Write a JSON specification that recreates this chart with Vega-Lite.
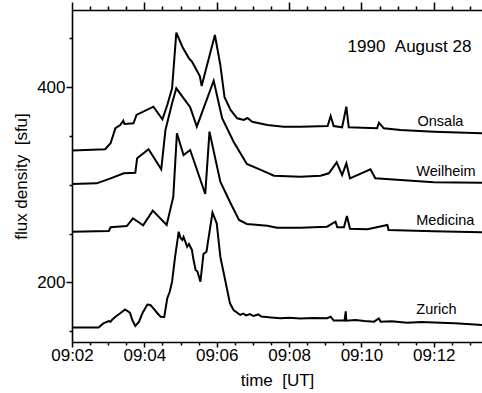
{
  "$schema": "https://vega.github.io/schema/vega-lite/v6.json",
  "width": 410,
  "height": 332,
  "autosize": "none",
  "padding": {"left": 72, "top": 10, "right": 0, "bottom": 51},
  "background": "white",
  "view": {"stroke": null},
  "config": {
    "font": "Liberation Sans",
    "axis": {
      "labelFont": "Liberation Sans",
      "labelFontSize": 17,
      "labelColor": "black",
      "titleFont": "Liberation Sans",
      "titleFontSize": 17,
      "titleFontWeight": "normal",
      "titleColor": "black",
      "domainColor": "black",
      "domainWidth": 1.6,
      "tickColor": "black",
      "tickOpacity": 1,
      "tickWidth": 1.5,
      "grid": false
    }
  },
  "datasets": {
    "series": [
      {"station": "Onsala", "time": "1990-08-28T09:02:00", "flux": 335},
      {"station": "Onsala", "time": "1990-08-28T09:02:55", "flux": 336.4},
      {"station": "Onsala", "time": "1990-08-28T09:03:04", "flux": 342.5},
      {"station": "Onsala", "time": "1990-08-28T09:03:12", "flux": 357.9},
      {"station": "Onsala", "time": "1990-08-28T09:03:20", "flux": 361.2},
      {"station": "Onsala", "time": "1990-08-28T09:03:25", "flux": 365.6},
      {"station": "Onsala", "time": "1990-08-28T09:03:27", "flux": 362.3},
      {"station": "Onsala", "time": "1990-08-28T09:03:42", "flux": 363},
      {"station": "Onsala", "time": "1990-08-28T09:03:47", "flux": 371.5},
      {"station": "Onsala", "time": "1990-08-28T09:04:15", "flux": 380},
      {"station": "Onsala", "time": "1990-08-28T09:04:30", "flux": 367.1},
      {"station": "Onsala", "time": "1990-08-28T09:04:38", "flux": 381.7},
      {"station": "Onsala", "time": "1990-08-28T09:04:46", "flux": 398.8},
      {"station": "Onsala", "time": "1990-08-28T09:04:53", "flux": 455.8},
      {"station": "Onsala", "time": "1990-08-28T09:05:03", "flux": 441.4},
      {"station": "Onsala", "time": "1990-08-28T09:05:14", "flux": 429.5},
      {"station": "Onsala", "time": "1990-08-28T09:05:19", "flux": 426.1},
      {"station": "Onsala", "time": "1990-08-28T09:05:32", "flux": 411.4},
      {"station": "Onsala", "time": "1990-08-28T09:05:35", "flux": 401.2},
      {"station": "Onsala", "time": "1990-08-28T09:05:57", "flux": 453.4},
      {"station": "Onsala", "time": "1990-08-28T09:06:06", "flux": 422.7},
      {"station": "Onsala", "time": "1990-08-28T09:06:13", "flux": 389.6},
      {"station": "Onsala", "time": "1990-08-28T09:06:23", "flux": 376.6},
      {"station": "Onsala", "time": "1990-08-28T09:06:34", "flux": 368.1},
      {"station": "Onsala", "time": "1990-08-28T09:06:45", "flux": 366.4},
      {"station": "Onsala", "time": "1990-08-28T09:06:51", "flux": 368.4},
      {"station": "Onsala", "time": "1990-08-28T09:06:59", "flux": 364.6},
      {"station": "Onsala", "time": "1990-08-28T09:07:24", "flux": 361.2},
      {"station": "Onsala", "time": "1990-08-28T09:07:51", "flux": 359.5},
      {"station": "Onsala", "time": "1990-08-28T09:08:19", "flux": 359.5},
      {"station": "Onsala", "time": "1990-08-28T09:09:04", "flux": 360.2},
      {"station": "Onsala", "time": "1990-08-28T09:09:09", "flux": 370.5},
      {"station": "Onsala", "time": "1990-08-28T09:09:14", "flux": 360.2},
      {"station": "Onsala", "time": "1990-08-28T09:09:28", "flux": 358.9},
      {"station": "Onsala", "time": "1990-08-28T09:09:35", "flux": 380},
      {"station": "Onsala", "time": "1990-08-28T09:09:39", "flux": 358.9},
      {"station": "Onsala", "time": "1990-08-28T09:10:26", "flux": 357.9},
      {"station": "Onsala", "time": "1990-08-28T09:10:29", "flux": 363.6},
      {"station": "Onsala", "time": "1990-08-28T09:10:37", "flux": 357.9},
      {"station": "Onsala", "time": "1990-08-28T09:11:05", "flux": 356.1},
      {"station": "Onsala", "time": "1990-08-28T09:12:00", "flux": 354.4},
      {"station": "Onsala", "time": "1990-08-28T09:13:20", "flux": 352.7},

      {"station": "Weilheim", "time": "1990-08-28T09:02:00", "flux": 300.8},
      {"station": "Weilheim", "time": "1990-08-28T09:02:41", "flux": 301.5},
      {"station": "Weilheim", "time": "1990-08-28T09:03:04", "flux": 306.6},
      {"station": "Weilheim", "time": "1990-08-28T09:03:26", "flux": 311.8},
      {"station": "Weilheim", "time": "1990-08-28T09:03:45", "flux": 312.4},
      {"station": "Weilheim", "time": "1990-08-28T09:03:48", "flux": 327.1},
      {"station": "Weilheim", "time": "1990-08-28T09:04:07", "flux": 336.4},
      {"station": "Weilheim", "time": "1990-08-28T09:04:28", "flux": 315.9},
      {"station": "Weilheim", "time": "1990-08-28T09:04:35", "flux": 356.1},
      {"station": "Weilheim", "time": "1990-08-28T09:04:46", "flux": 383.5},
      {"station": "Weilheim", "time": "1990-08-28T09:04:53", "flux": 398.8},
      {"station": "Weilheim", "time": "1990-08-28T09:05:16", "flux": 379.4},
      {"station": "Weilheim", "time": "1990-08-28T09:05:27", "flux": 359.5},
      {"station": "Weilheim", "time": "1990-08-28T09:05:55", "flux": 406.6},
      {"station": "Weilheim", "time": "1990-08-28T09:06:09", "flux": 368.1},
      {"station": "Weilheim", "time": "1990-08-28T09:06:28", "flux": 344.1},
      {"station": "Weilheim", "time": "1990-08-28T09:06:50", "flux": 321.3},
      {"station": "Weilheim", "time": "1990-08-28T09:07:13", "flux": 315.2},
      {"station": "Weilheim", "time": "1990-08-28T09:07:35", "flux": 309.3},
      {"station": "Weilheim", "time": "1990-08-28T09:08:19", "flux": 308.3},
      {"station": "Weilheim", "time": "1990-08-28T09:08:52", "flux": 309.3},
      {"station": "Weilheim", "time": "1990-08-28T09:09:06", "flux": 311.8},
      {"station": "Weilheim", "time": "1990-08-28T09:09:19", "flux": 323},
      {"station": "Weilheim", "time": "1990-08-28T09:09:28", "flux": 310},
      {"station": "Weilheim", "time": "1990-08-28T09:09:35", "flux": 322},
      {"station": "Weilheim", "time": "1990-08-28T09:09:41", "flux": 306.6},
      {"station": "Weilheim", "time": "1990-08-28T09:10:15", "flux": 315.9},
      {"station": "Weilheim", "time": "1990-08-28T09:10:23", "flux": 306.6},
      {"station": "Weilheim", "time": "1990-08-28T09:11:05", "flux": 304.9},
      {"station": "Weilheim", "time": "1990-08-28T09:12:00", "flux": 302.6},
      {"station": "Weilheim", "time": "1990-08-28T09:13:20", "flux": 302.1},

      {"station": "Medicina", "time": "1990-08-28T09:02:00", "flux": 252},
      {"station": "Medicina", "time": "1990-08-28T09:03:01", "flux": 252.7},
      {"station": "Medicina", "time": "1990-08-28T09:03:04", "flux": 256.5},
      {"station": "Medicina", "time": "1990-08-28T09:03:31", "flux": 257.8},
      {"station": "Medicina", "time": "1990-08-28T09:03:41", "flux": 265.7},
      {"station": "Medicina", "time": "1990-08-28T09:03:58", "flux": 258.5},
      {"station": "Medicina", "time": "1990-08-28T09:04:14", "flux": 273.5},
      {"station": "Medicina", "time": "1990-08-28T09:04:37", "flux": 258.8},
      {"station": "Medicina", "time": "1990-08-28T09:04:48", "flux": 287.8},
      {"station": "Medicina", "time": "1990-08-28T09:04:54", "flux": 352.7},
      {"station": "Medicina", "time": "1990-08-28T09:05:05", "flux": 330.5},
      {"station": "Medicina", "time": "1990-08-28T09:05:16", "flux": 335.6},
      {"station": "Medicina", "time": "1990-08-28T09:05:41", "flux": 290.6},
      {"station": "Medicina", "time": "1990-08-28T09:05:48", "flux": 354.4},
      {"station": "Medicina", "time": "1990-08-28T09:06:06", "flux": 303.2},
      {"station": "Medicina", "time": "1990-08-28T09:06:23", "flux": 281.1},
      {"station": "Medicina", "time": "1990-08-28T09:06:37", "flux": 264},
      {"station": "Medicina", "time": "1990-08-28T09:06:50", "flux": 259.9},
      {"station": "Medicina", "time": "1990-08-28T09:07:24", "flux": 258.1},
      {"station": "Medicina", "time": "1990-08-28T09:07:40", "flux": 256.1},
      {"station": "Medicina", "time": "1990-08-28T09:08:19", "flux": 256.1},
      {"station": "Medicina", "time": "1990-08-28T09:09:03", "flux": 257.1},
      {"station": "Medicina", "time": "1990-08-28T09:09:17", "flux": 262.2},
      {"station": "Medicina", "time": "1990-08-28T09:09:20", "flux": 256.5},
      {"station": "Medicina", "time": "1990-08-28T09:09:31", "flux": 256.5},
      {"station": "Medicina", "time": "1990-08-28T09:09:36", "flux": 268},
      {"station": "Medicina", "time": "1990-08-28T09:09:41", "flux": 255},
      {"station": "Medicina", "time": "1990-08-28T09:10:10", "flux": 254.4},
      {"station": "Medicina", "time": "1990-08-28T09:10:43", "flux": 258.8},
      {"station": "Medicina", "time": "1990-08-28T09:10:45", "flux": 253.7},
      {"station": "Medicina", "time": "1990-08-28T09:12:00", "flux": 252.4},
      {"station": "Medicina", "time": "1990-08-28T09:13:20", "flux": 251.4},

      {"station": "Zurich", "time": "1990-08-28T09:02:00", "flux": 153.9},
      {"station": "Zurich", "time": "1990-08-28T09:02:44", "flux": 153.9},
      {"station": "Zurich", "time": "1990-08-28T09:02:52", "flux": 158},
      {"station": "Zurich", "time": "1990-08-28T09:03:01", "flux": 160.5},
      {"station": "Zurich", "time": "1990-08-28T09:03:04", "flux": 159.8},
      {"station": "Zurich", "time": "1990-08-28T09:03:07", "flux": 162.1},
      {"station": "Zurich", "time": "1990-08-28T09:03:12", "flux": 164.9},
      {"station": "Zurich", "time": "1990-08-28T09:03:20", "flux": 168.4},
      {"station": "Zurich", "time": "1990-08-28T09:03:28", "flux": 172.3},
      {"station": "Zurich", "time": "1990-08-28T09:03:36", "flux": 169},
      {"station": "Zurich", "time": "1990-08-28T09:03:40", "flux": 161.5},
      {"station": "Zurich", "time": "1990-08-28T09:03:45", "flux": 155.4},
      {"station": "Zurich", "time": "1990-08-28T09:03:51", "flux": 159.5},
      {"station": "Zurich", "time": "1990-08-28T09:03:57", "flux": 168.7},
      {"station": "Zurich", "time": "1990-08-28T09:04:05", "flux": 177.4},
      {"station": "Zurich", "time": "1990-08-28T09:04:10", "flux": 176.9},
      {"station": "Zurich", "time": "1990-08-28T09:04:15", "flux": 173.5},
      {"station": "Zurich", "time": "1990-08-28T09:04:22", "flux": 168.2},
      {"station": "Zurich", "time": "1990-08-28T09:04:27", "flux": 164.9},
      {"station": "Zurich", "time": "1990-08-28T09:04:33", "flux": 164.6},
      {"station": "Zurich", "time": "1990-08-28T09:04:38", "flux": 183.8},
      {"station": "Zurich", "time": "1990-08-28T09:04:42", "flux": 190.2},
      {"station": "Zurich", "time": "1990-08-28T09:04:46", "flux": 200.8},
      {"station": "Zurich", "time": "1990-08-28T09:04:51", "flux": 226.4},
      {"station": "Zurich", "time": "1990-08-28T09:04:57", "flux": 252},
      {"station": "Zurich", "time": "1990-08-28T09:05:00", "flux": 245.5},
      {"station": "Zurich", "time": "1990-08-28T09:05:03", "flux": 243.5},
      {"station": "Zurich", "time": "1990-08-28T09:05:05", "flux": 246.5},
      {"station": "Zurich", "time": "1990-08-28T09:05:08", "flux": 241.7},
      {"station": "Zurich", "time": "1990-08-28T09:05:11", "flux": 236.6},
      {"station": "Zurich", "time": "1990-08-28T09:05:14", "flux": 239.4},
      {"station": "Zurich", "time": "1990-08-28T09:05:19", "flux": 233.2},
      {"station": "Zurich", "time": "1990-08-28T09:05:21", "flux": 225},
      {"station": "Zurich", "time": "1990-08-28T09:05:25", "flux": 212.7},
      {"station": "Zurich", "time": "1990-08-28T09:05:28", "flux": 211.2},
      {"station": "Zurich", "time": "1990-08-28T09:05:33", "flux": 200.8},
      {"station": "Zurich", "time": "1990-08-28T09:05:38", "flux": 229.1},
      {"station": "Zurich", "time": "1990-08-28T09:05:43", "flux": 231.5},
      {"station": "Zurich", "time": "1990-08-28T09:05:53", "flux": 271.6},
      {"station": "Zurich", "time": "1990-08-28T09:06:00", "flux": 260.6},
      {"station": "Zurich", "time": "1990-08-28T09:06:06", "flux": 226.4},
      {"station": "Zurich", "time": "1990-08-28T09:06:14", "flux": 202.5},
      {"station": "Zurich", "time": "1990-08-28T09:06:22", "flux": 178.6},
      {"station": "Zurich", "time": "1990-08-28T09:06:28", "flux": 171.8},
      {"station": "Zurich", "time": "1990-08-28T09:06:39", "flux": 166.7},
      {"station": "Zurich", "time": "1990-08-28T09:06:44", "flux": 168},
      {"station": "Zurich", "time": "1990-08-28T09:06:49", "flux": 166.2},
      {"station": "Zurich", "time": "1990-08-28T09:06:55", "flux": 167.5},
      {"station": "Zurich", "time": "1990-08-28T09:07:01", "flux": 165.6},
      {"station": "Zurich", "time": "1990-08-28T09:07:09", "flux": 167.2},
      {"station": "Zurich", "time": "1990-08-28T09:07:14", "flux": 165},
      {"station": "Zurich", "time": "1990-08-28T09:07:18", "flux": 164.9},
      {"station": "Zurich", "time": "1990-08-28T09:07:30", "flux": 164.2},
      {"station": "Zurich", "time": "1990-08-28T09:07:46", "flux": 163.3},
      {"station": "Zurich", "time": "1990-08-28T09:08:00", "flux": 163.8},
      {"station": "Zurich", "time": "1990-08-28T09:08:19", "flux": 163.1},
      {"station": "Zurich", "time": "1990-08-28T09:08:40", "flux": 163.5},
      {"station": "Zurich", "time": "1990-08-28T09:09:03", "flux": 163.3},
      {"station": "Zurich", "time": "1990-08-28T09:09:09", "flux": 164.9},
      {"station": "Zurich", "time": "1990-08-28T09:09:14", "flux": 161},
      {"station": "Zurich", "time": "1990-08-28T09:09:32", "flux": 161},
      {"station": "Zurich", "time": "1990-08-28T09:09:34", "flux": 170.3},
      {"station": "Zurich", "time": "1990-08-28T09:09:35", "flux": 160.8},
      {"station": "Zurich", "time": "1990-08-28T09:09:50", "flux": 161.5},
      {"station": "Zurich", "time": "1990-08-28T09:10:05", "flux": 160.5},
      {"station": "Zurich", "time": "1990-08-28T09:10:21", "flux": 159.8},
      {"station": "Zurich", "time": "1990-08-28T09:10:29", "flux": 163.1},
      {"station": "Zurich", "time": "1990-08-28T09:10:32", "flux": 159.8},
      {"station": "Zurich", "time": "1990-08-28T09:10:50", "flux": 160.3},
      {"station": "Zurich", "time": "1990-08-28T09:11:16", "flux": 158.8},
      {"station": "Zurich", "time": "1990-08-28T09:11:40", "flux": 159.5},
      {"station": "Zurich", "time": "1990-08-28T09:12:11", "flux": 158.8},
      {"station": "Zurich", "time": "1990-08-28T09:12:35", "flux": 158.2},
      {"station": "Zurich", "time": "1990-08-28T09:12:55", "flux": 157.5},
      {"station": "Zurich", "time": "1990-08-28T09:13:20", "flux": 156.4}
    ],
    "labels": [
      {"label": "Onsala", "time": "1990-08-28T09:11:33", "flux": 360.2},
      {"label": "Weilheim", "time": "1990-08-28T09:11:31", "flux": 308.5},
      {"label": "Medicina", "time": "1990-08-28T09:11:31", "flux": 258.8},
      {"label": "Zurich", "time": "1990-08-28T09:11:31", "flux": 167.7}
    ],
    "heading": [
      {"label": "1990\u00a0\u00a0August\u00a028", "time": "1990-08-28T09:09:37", "flux": 436.3}
    ]
  },
  "resolve": {"axis": {"x": "independent", "y": "independent"}},
  "layer": [
    {
      "data": {"name": "series"},
      "mark": {"type": "line", "color": "black", "strokeWidth": 2},
      "encoding": {
        "x": {
          "field": "time", "type": "temporal",
          "scale": {"domain": [{"year": 1990, "month": 8, "date": 28, "hours": 9, "minutes": 2, "seconds": 0}, {"year": 1990, "month": 8, "date": 28, "hours": 9, "minutes": 13, "seconds": 20}], "nice": false},
          "axis": {
            "orient": "bottom",
            "title": "time\u00a0\u00a0[UT]",
            "values": [
              {"year": 1990, "month": 8, "date": 28, "hours": 9, "minutes": 2},
              {"year": 1990, "month": 8, "date": 28, "hours": 9, "minutes": 4},
              {"year": 1990, "month": 8, "date": 28, "hours": 9, "minutes": 6},
              {"year": 1990, "month": 8, "date": 28, "hours": 9, "minutes": 8},
              {"year": 1990, "month": 8, "date": 28, "hours": 9, "minutes": 10},
              {"year": 1990, "month": 8, "date": 28, "hours": 9, "minutes": 12}
            ],
            "format": "%H:%M",
            "ticks": true,
            "tickSize": 5,
            "labelPadding": 0,
            "labelFlush": false,
            "labelOverlap": false,
            "titlePadding": 9
          }
        },
        "y": {
          "field": "flux", "type": "quantitative",
          "scale": {"domain": [139, 479], "nice": false, "zero": false},
          "axis": {
            "orient": "left",
            "values": [200, 400],
            "ticks": true,
            "tickSize": 6,
            "labelPadding": 1,
            "labelOverlap": false,
            "title": "flux density\u00a0\u00a0[sfu]",
            "titlePadding": 6
          }
        },
        "detail": {"field": "station"}
      }
    },
    {
      "data": {"name": "labels"},
      "mark": {"type": "text", "align": "left", "baseline": "alphabetic", "fontSize": 14.5, "font": "Liberation Sans", "color": "black"},
      "encoding": {
        "x": {
          "field": "time", "type": "temporal",
          "axis": {
            "orient": "bottom",
            "values": [
              {"year": 1990, "month": 8, "date": 28, "hours": 9, "minutes": 2, "seconds": 30},
              {"year": 1990, "month": 8, "date": 28, "hours": 9, "minutes": 3, "seconds": 0},
              {"year": 1990, "month": 8, "date": 28, "hours": 9, "minutes": 3, "seconds": 30},
              {"year": 1990, "month": 8, "date": 28, "hours": 9, "minutes": 4, "seconds": 30},
              {"year": 1990, "month": 8, "date": 28, "hours": 9, "minutes": 5, "seconds": 0},
              {"year": 1990, "month": 8, "date": 28, "hours": 9, "minutes": 5, "seconds": 30},
              {"year": 1990, "month": 8, "date": 28, "hours": 9, "minutes": 6, "seconds": 30},
              {"year": 1990, "month": 8, "date": 28, "hours": 9, "minutes": 7, "seconds": 0},
              {"year": 1990, "month": 8, "date": 28, "hours": 9, "minutes": 7, "seconds": 30},
              {"year": 1990, "month": 8, "date": 28, "hours": 9, "minutes": 8, "seconds": 30},
              {"year": 1990, "month": 8, "date": 28, "hours": 9, "minutes": 9, "seconds": 0},
              {"year": 1990, "month": 8, "date": 28, "hours": 9, "minutes": 9, "seconds": 30},
              {"year": 1990, "month": 8, "date": 28, "hours": 9, "minutes": 10, "seconds": 30},
              {"year": 1990, "month": 8, "date": 28, "hours": 9, "minutes": 11, "seconds": 0},
              {"year": 1990, "month": 8, "date": 28, "hours": 9, "minutes": 11, "seconds": 30},
              {"year": 1990, "month": 8, "date": 28, "hours": 9, "minutes": 12, "seconds": 30},
              {"year": 1990, "month": 8, "date": 28, "hours": 9, "minutes": 13, "seconds": 0}
            ],
            "labels": false,
            "domain": false,
            "title": null,
            "ticks": true,
            "tickSize": 3
          }
        },
        "y": {
          "field": "flux", "type": "quantitative",
          "axis": {
            "orient": "left",
            "values": [150, 250, 300, 350, 450],
            "labels": false,
            "domain": false,
            "title": null,
            "ticks": true,
            "tickSize": 3
          }
        },
        "text": {"field": "label"}
      }
    },
    {
      "data": {"name": "heading"},
      "mark": {"type": "text", "align": "left", "baseline": "alphabetic", "fontSize": 17, "font": "Liberation Sans", "color": "black"},
      "encoding": {
        "x": {
          "field": "time", "type": "temporal",
          "axis": {
            "orient": "top",
            "values": [
              {"year": 1990, "month": 8, "date": 28, "hours": 9, "minutes": 2},
              {"year": 1990, "month": 8, "date": 28, "hours": 9, "minutes": 4},
              {"year": 1990, "month": 8, "date": 28, "hours": 9, "minutes": 6},
              {"year": 1990, "month": 8, "date": 28, "hours": 9, "minutes": 8},
              {"year": 1990, "month": 8, "date": 28, "hours": 9, "minutes": 10},
              {"year": 1990, "month": 8, "date": 28, "hours": 9, "minutes": 12}
            ],
            "labels": false,
            "title": null,
            "ticks": true,
            "tickSize": 8
          }
        },
        "y": {"field": "flux", "type": "quantitative", "axis": null},
        "text": {"field": "label"}
      }
    },
    {
      "data": {"name": "heading"},
      "mark": {"type": "text", "opacity": 0},
      "encoding": {
        "x": {
          "field": "time", "type": "temporal",
          "axis": {
            "orient": "top",
            "values": [
              {"year": 1990, "month": 8, "date": 28, "hours": 9, "minutes": 2, "seconds": 30},
              {"year": 1990, "month": 8, "date": 28, "hours": 9, "minutes": 3, "seconds": 0},
              {"year": 1990, "month": 8, "date": 28, "hours": 9, "minutes": 3, "seconds": 30},
              {"year": 1990, "month": 8, "date": 28, "hours": 9, "minutes": 4, "seconds": 30},
              {"year": 1990, "month": 8, "date": 28, "hours": 9, "minutes": 5, "seconds": 0},
              {"year": 1990, "month": 8, "date": 28, "hours": 9, "minutes": 5, "seconds": 30},
              {"year": 1990, "month": 8, "date": 28, "hours": 9, "minutes": 6, "seconds": 30},
              {"year": 1990, "month": 8, "date": 28, "hours": 9, "minutes": 7, "seconds": 0},
              {"year": 1990, "month": 8, "date": 28, "hours": 9, "minutes": 7, "seconds": 30},
              {"year": 1990, "month": 8, "date": 28, "hours": 9, "minutes": 8, "seconds": 30},
              {"year": 1990, "month": 8, "date": 28, "hours": 9, "minutes": 9, "seconds": 0},
              {"year": 1990, "month": 8, "date": 28, "hours": 9, "minutes": 9, "seconds": 30},
              {"year": 1990, "month": 8, "date": 28, "hours": 9, "minutes": 10, "seconds": 30},
              {"year": 1990, "month": 8, "date": 28, "hours": 9, "minutes": 11, "seconds": 0},
              {"year": 1990, "month": 8, "date": 28, "hours": 9, "minutes": 11, "seconds": 30},
              {"year": 1990, "month": 8, "date": 28, "hours": 9, "minutes": 12, "seconds": 30},
              {"year": 1990, "month": 8, "date": 28, "hours": 9, "minutes": 13, "seconds": 0}
            ],
            "labels": false,
            "domain": false,
            "title": null,
            "ticks": true,
            "tickSize": 4
          }
        },
        "y": {"field": "flux", "type": "quantitative", "axis": null},
        "text": {"field": "label"}
      }
    }
  ]
}
